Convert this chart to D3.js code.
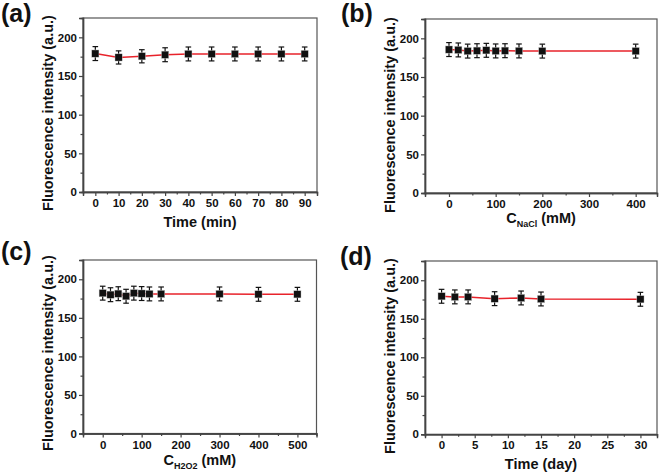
<!DOCTYPE html>
<html><head><meta charset="utf-8">
<script src="https://cdn.jsdelivr.net/npm/d3@7"></script>
<style>
body{margin:0;background:#fff}
svg{display:block}
text{font-family:"Liberation Sans",Arial,sans-serif;font-weight:bold;fill:#111}
</style>
</head><body>
<svg id="c" width="661" height="475"></svg>
<script>
// ---- data ----
const yTicks = [0, 50, 100, 150, 200];
const yMinor = [25, 75, 125, 175];

const aX = [0, 10, 20, 30, 40, 50, 60, 70, 80, 90];
const aY = [179, 174, 175.5, 177.5, 178.5, 178.5, 178.5, 178.5, 178.5, 178.5];
const aErr = [9, 8.5, 8.5, 9, 9, 9, 9, 9, 9, 9];
const aTicks = [0, 10, 20, 30, 40, 50, 60, 70, 80, 90];
const aMinor = [5, 15, 25, 35, 45, 55, 65, 75, 85];

const bX = [0, 20, 40, 60, 80, 100, 120, 150, 200, 400];
const bY = [185.5, 185, 183.5, 184, 184.5, 183.7, 184, 183.7, 183.5, 183.5];
const bErr = [9, 9, 9, 9, 9, 9, 9, 9, 9, 9];
const bTicks = [0, 100, 200, 300, 400];
const bMinor = [50, 150, 250, 350];

const cX = [0, 20, 40, 60, 80, 100, 120, 150, 300, 400, 500];
const cY = [182, 180, 181.3, 178, 182, 181.5, 181, 181, 181, 180.5, 180.5];
const cErr = [9, 9, 9, 9, 9, 9, 9, 9, 9, 9, 9];
const cTicks = [0, 100, 200, 300, 400, 500];
const cMinor = [50, 150, 250, 350, 450];

const dX = [0, 2, 4, 8, 12, 15, 30];
const dY = [179.2, 178.4, 178.4, 176.1, 177, 175.7, 175.3];
const dErr = [9, 9, 9, 9, 9, 9, 9];
const dTicks = [0, 5, 10, 15, 20, 25, 30];
const dMinor = [2.5, 7.5, 12.5, 17.5, 22.5, 27.5];

const yTitle = "Fluorescence intensity (a.u.)";

// ---- layout ----
const panels = [
  {tag:"(a)", tx:1, ty:22, x:aX, y:aY, e:aErr, ticks:aTicks, minor:aMinor, xd:[-5.3,95.3],
   f:{x0:83, x1:317, y0:18, y1:192}, ytx:53, yty:113, xtY:227, xt:[{t:"Time (min)"}]},
  {tag:"(b)", tx:341, ty:22, x:bX, y:bY, e:bErr, ticks:bTicks, minor:bMinor, xd:[-51.4,445.7],
   f:{x0:425, x1:657, y0:19, y1:193}, ytx:395, yty:115, xtY:223, xt:[{t:"C"},{t:"NaCl",sub:true},{t:" (mM)"}]},
  {tag:"(c)", tx:1, ty:260, x:cX, y:cY, e:cErr, ticks:cTicks, minor:cMinor, xd:[-50.6,549],
   f:{x0:83, x1:316.5, y0:260, y1:433.5}, ytx:53, yty:353, xtY:465, xt:[{t:"C"},{t:"H2O2",sub:true},{t:" (mM)"}]},
  {tag:"(d)", tx:340, ty:265, x:dX, y:dY, e:dErr, ticks:dTicks, minor:dMinor, xd:[-2.5,32.5],
   f:{x0:425, x1:657, y0:261, y1:434.3}, ytx:395, yty:356, xtY:469, xt:[{t:"Time (day)"}]}
];

const svg = d3.select("#c");

panels.forEach(p => {
  const g = svg.append("g");
  const f = p.f;
  const xs = d3.scaleLinear().domain(p.xd).range([f.x0, f.x1]);
  const ys = d3.scaleLinear().domain([0, 225]).range([f.y1, f.y0]);

  // frame
  g.append("rect").attr("x", f.x0).attr("y", f.y0)
    .attr("width", f.x1 - f.x0).attr("height", f.y1 - f.y0)
    .attr("fill", "none").attr("stroke", "#555").attr("stroke-width", 1.2);

  // y axis
  const ya = g.append("g").attr("transform", `translate(${f.x0},0)`)
    .call(d3.axisLeft(ys).tickValues(yTicks).tickSize(4).tickPadding(2).tickFormat(d3.format("d")));
  const yam = g.append("g").attr("transform", `translate(${f.x0},0)`)
    .call(d3.axisLeft(ys).tickValues(yMinor).tickSize(2.5).tickFormat(""));
  // x axis
  const xa = g.append("g").attr("transform", `translate(0,${f.y1})`)
    .call(d3.axisBottom(xs).tickValues(p.ticks).tickSize(4).tickPadding(3).tickFormat(d3.format("d")));
  const xam = g.append("g").attr("transform", `translate(0,${f.y1})`)
    .call(d3.axisBottom(xs).tickValues(p.minor).tickSize(2.5).tickFormat(""));

  [ya, yam, xa, xam].forEach(a => {
    a.select(".domain").attr("stroke", "#444").attr("stroke-width", 1.4);
    a.selectAll(".tick line").attr("stroke", "#444").attr("stroke-width", 1.2);
    a.selectAll("text").attr("font-size", 11.5).attr("font-family", "'Liberation Sans',Arial,sans-serif")
      .attr("font-weight", "bold").attr("fill", "#111");
  });

  // line
  const pts = p.x.map((v, i) => [v, p.y[i], p.e[i]]);
  g.append("path").datum(pts)
    .attr("d", d3.line().x(d => xs(d[0])).y(d => ys(d[1])))
    .attr("fill", "none").attr("stroke", "#e8232b").attr("stroke-width", 1.5);

  // error bars
  const eb = g.append("g").attr("stroke", "#111").attr("stroke-width", 1.2);
  pts.forEach(d => {
    const cx = xs(d[0]);
    eb.append("line").attr("x1", cx).attr("x2", cx).attr("y1", ys(d[1] - d[2])).attr("y2", ys(d[1] + d[2]));
    [d[1] - d[2], d[1] + d[2]].forEach(v => {
      eb.append("line").attr("x1", cx - 2.8).attr("x2", cx + 2.8).attr("y1", ys(v)).attr("y2", ys(v));
    });
  });

  // markers
  g.selectAll("rect.m").data(pts).enter().append("rect").attr("class", "m")
    .attr("x", d => xs(d[0]) - 3.6).attr("y", d => ys(d[1]) - 3.6)
    .attr("width", 7.2).attr("height", 7.2).attr("fill", "#111")
    .attr("stroke", "#ccc").attr("stroke-width", 0.4);

  // y title
  g.append("text").attr("transform", `translate(${p.ytx},${p.yty}) rotate(-90)`)
    .attr("text-anchor", "middle").attr("font-size", 14.5).text(yTitle);

  // x title
  const xt = g.append("text").attr("x", (f.x0 + f.x1) / 2).attr("y", p.xtY)
    .attr("text-anchor", "middle").attr("font-size", 14.5);
  p.xt.forEach(s => {
    const ts = xt.append("tspan").text(s.t);
    if (s.sub) ts.attr("font-size", 9).attr("dy", 4);
    else if (xt.selectAll("tspan").size() > 1) ts.attr("dy", -4);
  });

  // panel tag
  g.append("text").attr("x", p.tx).attr("y", p.ty).attr("font-size", 25).text(p.tag);
});
</script>
</body></html>
